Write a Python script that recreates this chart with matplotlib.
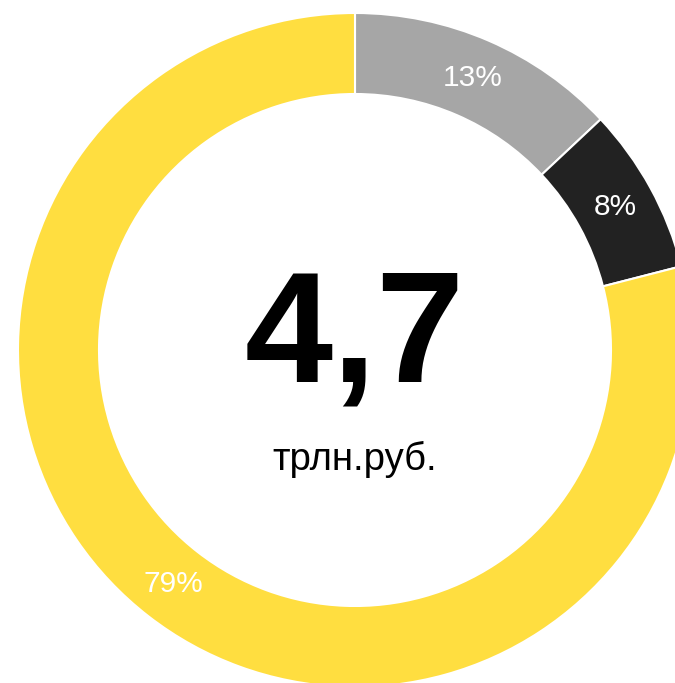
import numpy as np
import matplotlib.pyplot as plt

# доли
labels = ['13%', '8%', '79%']
values = [13, 8, 79]
colors = ['#A6A6A6', '#222222', '#FFDE40']
total = '4,7'
unit = 'трлн.руб.'

plt.rcParams['font.family'] = ['Liberation Sans', 'DejaVu Sans']

W, H = 675, 683
fig = plt.figure(figsize=(W / 100, H / 100), dpi=100, facecolor='w')
cx, cy, R = 355, 350, 337
ax = fig.add_axes([(cx - R) / W, (H - cy - R) / H, 2 * R / W, 2 * R / H])

ax.pie(values, colors=colors, startangle=90, counterclock=False,
       radius=1, wedgeprops=dict(width=81 / R, edgecolor='w', linewidth=1.5),
       frame=True)
ax.set_xlim(-1, 1)
ax.set_ylim(-1, 1)
ax.axis('off')

# подписи процентов по середине кольца
ang = 90.0
for lab, v in zip(labels, values):
    mid = ang - v * 3.6 / 2
    r = 0.88
    ax.text(r * np.cos(np.radians(mid)), r * np.sin(np.radians(mid)), lab,
            ha='center', va='center', color='w', fontsize=21.5)
    ang -= v * 3.6

ax.text(0, (cy - 382) / R, total, ha='center', va='baseline', fontsize=114,
        fontweight='bold', color='k')
ax.text(0, (cy - 470) / R, unit, ha='center', va='baseline', fontsize=27.5, color='k')

fig.savefig('out.png', dpi=100, facecolor='w')
